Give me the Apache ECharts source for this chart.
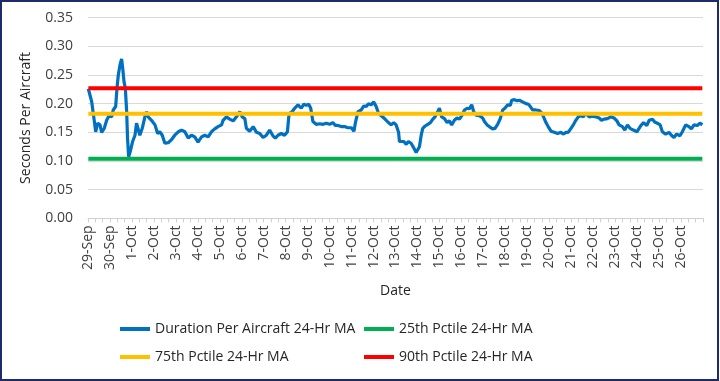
<!DOCTYPE html>
<html>
<head>
<meta charset="utf-8">
<script src="https://cdn.jsdelivr.net/npm/echarts@6/dist/echarts.min.js"></script>
<style>
html,body{margin:0;padding:0;background:#fff;}
#chart{width:720px;height:381px;}
</style>
</head>
<body>
<div id="chart"></div>
<script>
// Tick labels (one per day, starting 29-Sep)
var dateLabels = ['29-Sep','30-Sep','1-Oct','2-Oct','3-Oct','4-Oct','5-Oct','6-Oct','7-Oct','8-Oct','9-Oct','10-Oct','11-Oct','12-Oct','13-Oct','14-Oct','15-Oct','16-Oct','17-Oct','18-Oct','19-Oct','20-Oct','21-Oct','22-Oct','23-Oct','24-Oct','25-Oct','26-Oct'];

// Time of each reading, in days since 29-Sep 00:00
var dayOffsets = [0.015,0.17,0.29,0.35,0.44,0.545,0.62,0.74,0.85,0.955,1.08,1.15,1.26,1.32,1.38,1.455,1.53,1.58,1.64,1.70,1.76,1.80,1.85,1.92,2.03,2.14,2.21,2.29,2.36,2.47,2.59,2.67,2.74,2.89,3.05,3.17,3.27,3.38,3.50,3.65,3.80,3.95,4.11,4.26,4.41,4.56,4.71,4.86,5.01,5.17,5.32,5.47,5.62,5.77,5.92,6.08,6.15,6.30,6.45,6.61,6.76,6.91,7.02,7.14,7.21,7.36,7.52,7.67,7.82,7.97,8.12,8.27,8.42,8.53,8.65,8.80,8.95,9.08,9.14,9.18,9.29,9.41,9.56,9.71,9.83,9.94,10.05,10.14,10.24,10.39,10.55,10.70,10.85,11.00,11.15,11.26,11.38,11.53,11.68,11.83,11.99,12.11,12.17,12.29,12.44,12.56,12.67,12.77,12.89,13.01,13.12,13.23,13.35,13.50,13.65,13.80,13.92,14.03,14.14,14.18,14.26,14.38,14.49,14.59,14.71,14.83,14.94,15.02,15.09,15.17,15.24,15.35,15.47,15.59,15.70,15.80,15.92,16.00,16.10,16.23,16.35,16.45,16.56,16.68,16.80,16.91,17.02,17.14,17.26,17.36,17.47,17.56,17.67,17.82,17.97,18.05,18.12,18.17,18.27,18.42,18.53,18.65,18.77,18.88,18.98,19.11,19.23,19.29,19.41,19.53,19.64,19.74,19.83,19.94,20.05,20.14,20.24,20.39,20.55,20.65,20.74,20.85,20.95,21.08,21.23,21.38,21.53,21.65,21.76,21.86,21.99,22.11,22.21,22.32,22.44,22.56,22.63,22.71,22.82,22.97,23.12,23.27,23.38,23.50,23.65,23.80,23.95,24.08,24.18,24.33,24.44,24.56,24.68,24.83,24.99,25.14,25.29,25.44,25.55,25.70,25.80,25.92,26.05,26.15,26.30,26.45,26.56,26.68,26.80,26.95,27.06,27.21,27.36,27.47,27.59,27.74,27.86,27.97];

// Duration Per Aircraft 24-Hr MA (seconds)
var durationMA = [0.226,0.203,0.169,0.151,0.166,0.163,0.150,0.157,0.171,0.179,0.177,0.189,0.195,0.227,0.250,0.267,0.278,0.262,0.238,0.227,0.186,0.140,0.1075,0.116,0.134,0.145,0.166,0.168,0.145,0.157,0.177,0.186,0.177,0.171,0.163,0.148,0.151,0.145,0.131,0.132,0.137,0.145,0.151,0.154,0.151,0.140,0.145,0.142,0.133,0.142,0.145,0.142,0.151,0.156,0.160,0.163,0.171,0.177,0.173,0.170,0.177,0.186,0.177,0.174,0.157,0.152,0.160,0.150,0.148,0.141,0.145,0.154,0.144,0.140,0.145,0.148,0.145,0.151,0.177,0.183,0.186,0.192,0.198,0.192,0.199,0.197,0.199,0.192,0.169,0.164,0.165,0.164,0.166,0.164,0.167,0.162,0.162,0.160,0.160,0.158,0.158,0.152,0.166,0.186,0.189,0.196,0.195,0.200,0.198,0.203,0.195,0.183,0.179,0.174,0.168,0.163,0.167,0.163,0.150,0.134,0.131,0.134,0.129,0.134,0.131,0.123,0.115,0.112,0.125,0.145,0.157,0.161,0.164,0.167,0.173,0.177,0.186,0.192,0.177,0.174,0.167,0.170,0.163,0.171,0.175,0.173,0.179,0.189,0.192,0.191,0.198,0.186,0.180,0.179,0.175,0.169,0.170,0.163,0.160,0.156,0.157,0.164,0.174,0.189,0.192,0.198,0.197,0.206,0.207,0.205,0.206,0.204,0.206,0.200,0.199,0.195,0.189,0.189,0.188,0.184,0.177,0.167,0.160,0.152,0.150,0.148,0.150,0.147,0.150,0.150,0.157,0.164,0.171,0.177,0.179,0.177,0.184,0.183,0.177,0.178,0.177,0.175,0.171,0.173,0.174,0.177,0.175,0.170,0.163,0.160,0.154,0.163,0.157,0.154,0.151,0.160,0.167,0.162,0.171,0.173,0.168,0.166,0.163,0.151,0.147,0.150,0.145,0.141,0.147,0.144,0.151,0.163,0.160,0.156,0.163,0.162,0.166,0.163];

// Percentile reference levels (seconds)
var pctile25 = 0.104;
var pctile75 = 0.1825;
var pctile90 = 0.227;

var seriesNames = ['Duration Per Aircraft 24-Hr MA','25th Pctile 24-Hr MA','75th Pctile 24-Hr MA','90th Pctile 24-Hr MA'];
var seriesColors = ['#0070C0','#00B050','#FFC000','#FF0000'];

var durationData = dayOffsets.map(function(d,i){return [d, durationMA[i]];});
function flat(v){ return dayOffsets.map(function(d){return [d, v];}); }

var font = 'Open Sans';
var chart = echarts.init(document.getElementById('chart'), null, {renderer:'canvas'});

function legendAt(name, left, top){
  return {
    data:[name], left:left, top:top, orient:'horizontal', padding:0,
    icon:'rect', itemWidth:30, itemHeight:4, itemGap:0,
    textStyle:{fontFamily:font, fontSize:14, color:'#262626'},
    selectedMode:false
  };
}

chart.setOption({
  animation:false,
  backgroundColor:'#ffffff',
  grid:{left:88, right:17, top:17.6, bottom:162.6, containLabel:false},
  xAxis:{
    type:'value', min:0, max:28, interval:1,
    name:'Date', nameLocation:'middle', nameGap:66,
    nameTextStyle:{fontFamily:font, fontSize:14, color:'#262626'},
    axisLine:{show:true, lineStyle:{color:'#d0d0d0', width:1}},
    axisTick:{show:true, length:4, lineStyle:{color:'#d0d0d0'}},
    minorTick:{show:true, splitNumber:3, length:4, lineStyle:{color:'#d0d0d0'}},
    splitLine:{show:false},
    axisLabel:{
      rotate:90, margin:7, fontFamily:font, fontSize:14, color:'#404040',
      formatter:function(v){ return dateLabels[v] || ''; }
    }
  },
  yAxis:{
    type:'value', min:0, max:0.35, interval:0.05,
    name:'Seconds Per Aircraft', nameLocation:'middle', nameGap:55,
    nameTextStyle:{fontFamily:font, fontSize:14, color:'#262626'},
    axisLine:{show:false}, axisTick:{show:false},
    splitLine:{lineStyle:{color:'#d9d9d9', width:1}},
    axisLabel:{margin:15, fontFamily:font, fontSize:14, color:'#404040',
      formatter:function(v){ return v.toFixed(2); }}
  },
  legend:[
    legendAt(seriesNames[0], 120, 322),
    legendAt(seriesNames[1], 364, 322),
    legendAt(seriesNames[2], 120, 350),
    legendAt(seriesNames[3], 364, 350)
  ],
  graphic:[{
    type:'rect', silent:true, z:100,
    shape:{x:1, y:1, width:717, height:379},
    style:{fill:'none', stroke:'#1F2A6B', lineWidth:2}
  }],
  series:[
    {name:seriesNames[0], type:'line', data:durationData, showSymbol:false, symbol:'none',
     lineStyle:{color:seriesColors[0], width:3.2}, itemStyle:{color:seriesColors[0]}, z:2},
    {name:seriesNames[1], type:'line', data:flat(pctile25), showSymbol:false, symbol:'none',
     lineStyle:{color:seriesColors[1], width:4}, itemStyle:{color:seriesColors[1]}, z:3},
    {name:seriesNames[2], type:'line', data:flat(pctile75), showSymbol:false, symbol:'none',
     lineStyle:{color:seriesColors[2], width:4}, itemStyle:{color:seriesColors[2]}, z:3},
    {name:seriesNames[3], type:'line', data:flat(pctile90), showSymbol:false, symbol:'none',
     lineStyle:{color:seriesColors[3], width:4}, itemStyle:{color:seriesColors[3]}, z:3}
  ]
});
</script>
</body>
</html>
